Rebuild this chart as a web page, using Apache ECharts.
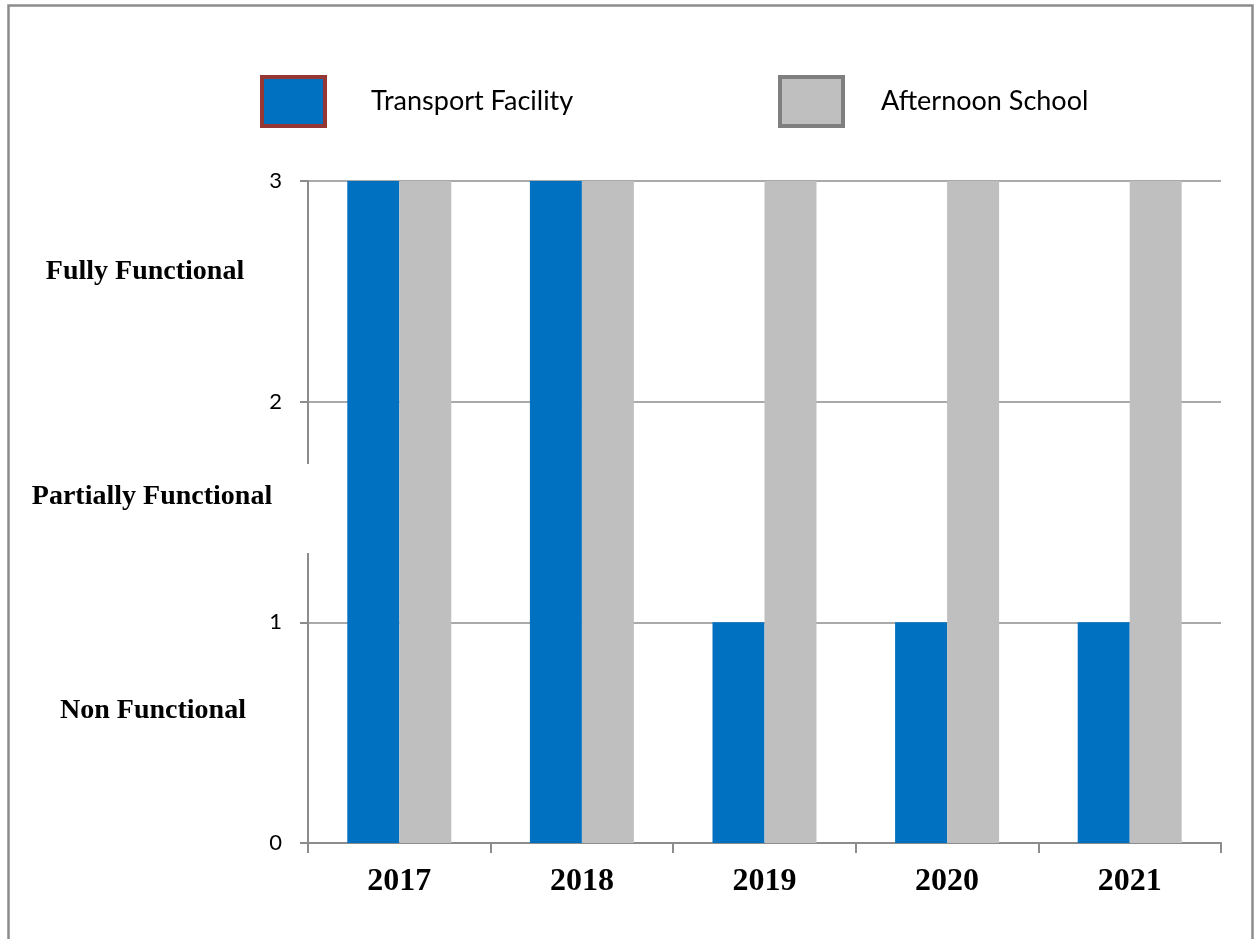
<!DOCTYPE html>
<html>
<head>
<meta charset="utf-8">
<script src="https://cdn.jsdelivr.net/npm/echarts@6/dist/echarts.min.js"></script>
<style>
html,body{margin:0;padding:0;background:#fff;}
#chart{width:1256px;height:939px;}
</style>
</head>
<body>
<div id="chart"></div>
<script>
var categories = ['2017', '2018', '2019', '2020', '2021'];
var transportFacility = [3, 3, 1, 1, 1];
var afternoonSchool = [3, 3, 3, 3, 3];
var yTicks = [0, 1, 2, 3];
var statusLabels = ['Fully Functional', 'Partially Functional', 'Non Functional'];

var chart = echarts.init(document.getElementById('chart'));
var axisGray = '#8c8c8c';
chart.setOption({
  backgroundColor: '#ffffff',
  animation: false,
  legend: [
    {
      left: 255, top: 70,
      data: [{name: 'Transport Facility', itemStyle: {borderColor: '#953735', borderWidth: 4}}],
      icon: 'rect',
      itemWidth: 63, itemHeight: 49,
      textStyle: {fontFamily: 'Lato', fontSize: 27, color: '#000', padding: [0, 0, 0, 41]}
    },
    {
      left: 773, top: 70,
      data: [{name: 'Afternoon School', itemStyle: {borderColor: '#7f7f7f', borderWidth: 4}}],
      icon: 'rect',
      itemWidth: 63, itemHeight: 49,
      textStyle: {fontFamily: 'Lato', fontSize: 27, color: '#000', padding: [0, 0, 0, 33]}
    }
  ],
  grid: {left: 308, right: 35, top: 181, bottom: 96},
  xAxis: {
    type: 'category',
    data: categories,
    axisLine: {lineStyle: {color: axisGray, width: 2}},
    axisTick: {show: true, length: 10, lineStyle: {color: axisGray, width: 2}},
    axisLabel: {fontFamily: 'Liberation Serif', fontWeight: 'bold', fontSize: 32, color: '#000', margin: 23}
  },
  yAxis: {
    type: 'value',
    min: 0, max: 3, interval: 1,
    axisLine: {show: true, lineStyle: {color: axisGray, width: 2}},
    axisTick: {show: true, length: 8, lineStyle: {color: axisGray, width: 2}},
    axisLabel: {fontFamily: 'Lato', fontSize: 22, color: '#000', margin: 26,
      formatter: function (v) { return yTicks.indexOf(v) >= 0 ? String(v) : ''; }},
    splitLine: {lineStyle: {color: axisGray, width: 1.5}}
  },
  series: [
    {name: 'Transport Facility', type: 'bar', data: transportFacility, barWidth: 52, barGap: '0%',
      itemStyle: {color: '#0070c0'}},
    {name: 'Afternoon School', type: 'bar', data: afternoonSchool, barWidth: 52,
      itemStyle: {color: '#bfbfbf'}}
  ],
  graphic: [
    {type: 'rect', z: 100, silent: true,
      shape: {x: 8.5, y: 5.5, width: 1244, height: 960},
      style: {fill: 'none', stroke: '#8c8c8c', lineWidth: 2.5}},
    {type: 'rect', z: 50, silent: true, shape: {x: 298, y: 464, width: 14, height: 89},
      style: {fill: '#ffffff'}},
    {type: 'text', z: 60, x: 145, y: 272, style: {text: statusLabels[0], fontFamily: 'Liberation Serif', fontWeight: 'bold', fontSize: 28, fill: '#000', textAlign: 'center', textVerticalAlign: 'middle'}},
    {type: 'text', z: 60, x: 152, y: 497, style: {text: statusLabels[1], fontFamily: 'Liberation Serif', fontWeight: 'bold', fontSize: 28, fill: '#000', textAlign: 'center', textVerticalAlign: 'middle'}},
    {type: 'text', z: 60, x: 153, y: 711, style: {text: statusLabels[2], fontFamily: 'Liberation Serif', fontWeight: 'bold', fontSize: 28, fill: '#000', textAlign: 'center', textVerticalAlign: 'middle'}}
  ]
});
</script>
</body>
</html>
